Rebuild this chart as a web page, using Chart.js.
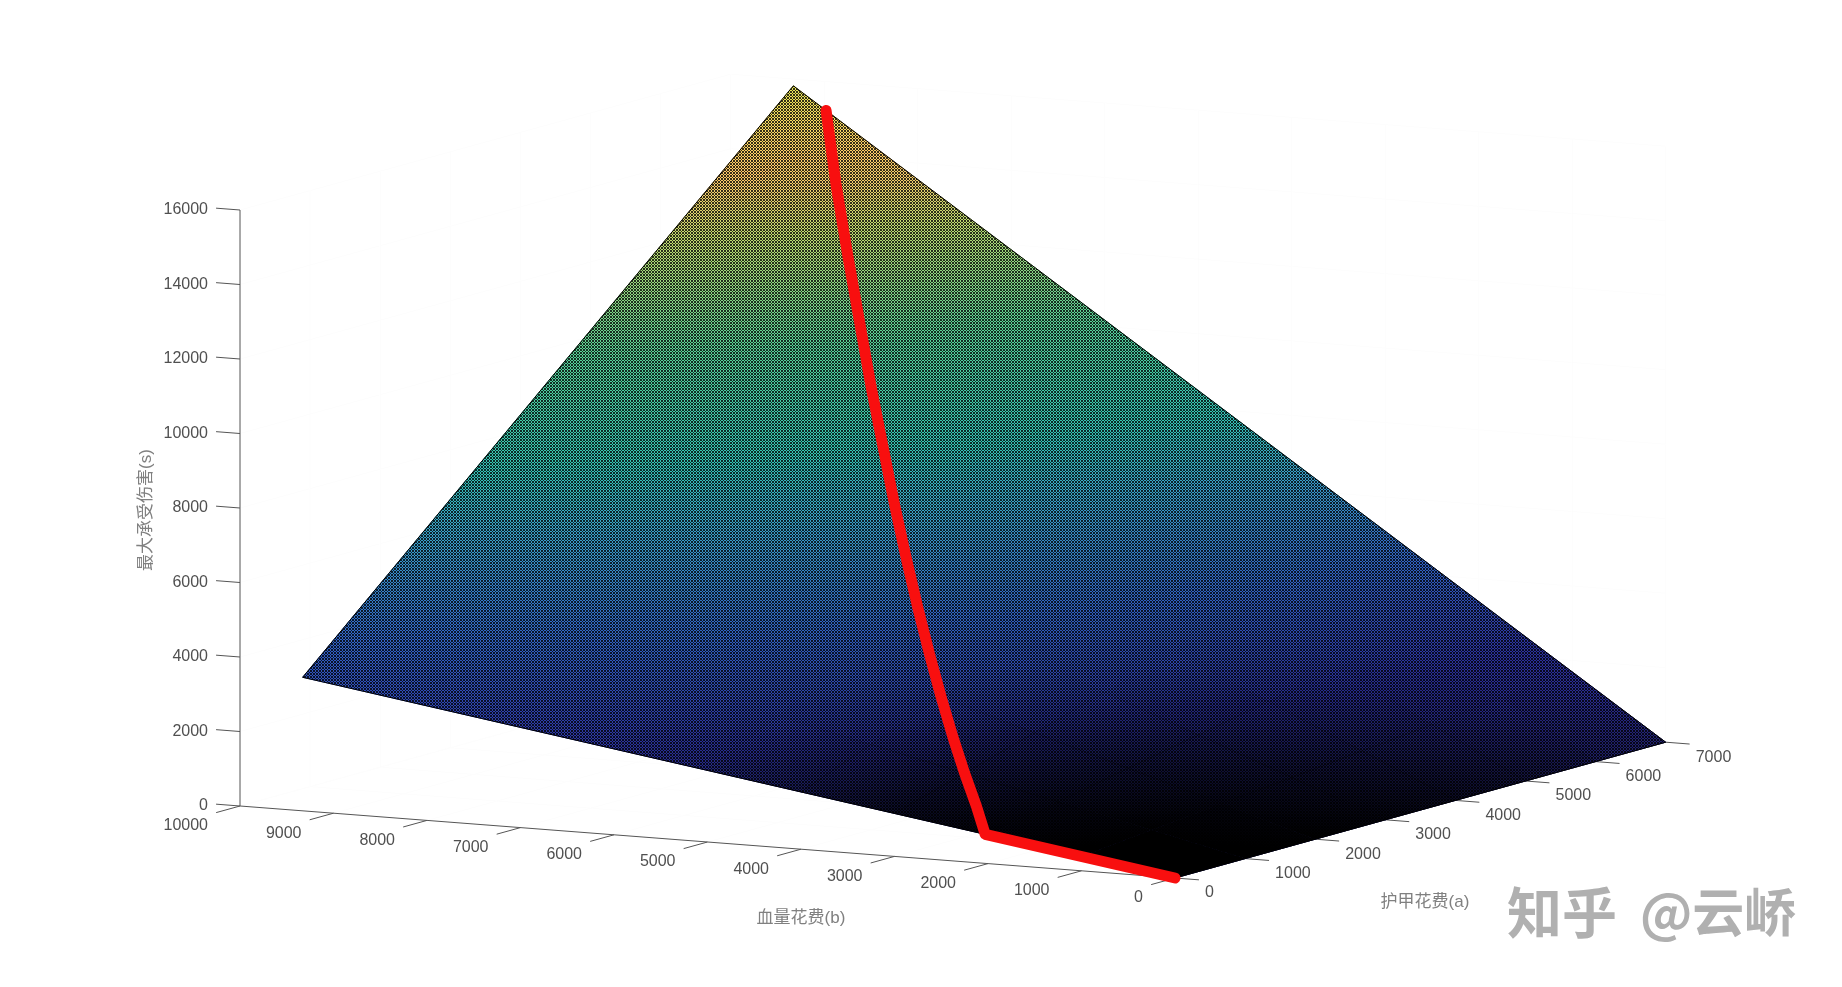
<!DOCTYPE html>
<html>
<head>
<meta charset="utf-8">
<title>chart</title>
<script src="https://cdn.jsdelivr.net/npm/chart.js@4"></script>
<style>
  html, body { margin: 0; background: #fff; }
  canvas { display: block; }
</style>
</head>
<body>
<canvas id="surfChart" width="1842" height="987"></canvas>
<script>
// tick labels
const aTicks = [0, 1000, 2000, 3000, 4000, 5000, 6000, 7000];
const bTicks = [0, 1000, 2000, 3000, 4000, 5000, 6000, 7000, 8000, 9000, 10000];
const zTicks = [0, 2000, 4000, 6000, 8000, 10000, 12000, 14000, 16000];

// surface: one row per armour cost, one value per hp cost
const gridA = [0, 1000, 2000, 3000, 4000, 5000, 6000, 7000];
const gridB = [0, 1000, 2000, 3000, 4000, 5000, 6000, 7000, 8000, 9000, 9330];
const zAtA0 = [0, 384, 769, 1153, 1537, 1922, 2306, 2690, 3074, 3459, 3585];
const zAtA1000 = [0, 572, 1143, 1715, 2286, 2858, 3430, 4001, 4573, 5144, 5333];
const zAtA2000 = [0, 759, 1518, 2277, 3036, 3795, 4553, 5312, 6071, 6830, 7080];
const zAtA3000 = [0, 946, 1892, 2839, 3785, 4731, 5677, 6623, 7570, 8516, 8828];
const zAtA4000 = [0, 1134, 2267, 3401, 4534, 5668, 6801, 7935, 9068, 10202, 10576];
const zAtA5000 = [0, 1321, 2642, 3962, 5283, 6604, 7925, 9246, 10566, 11887, 12323];
const zAtA6000 = [0, 1508, 3016, 4524, 6032, 7541, 9049, 10557, 12065, 13573, 14071];
const zAtA7000 = [0, 1695, 3391, 5086, 6782, 8477, 10172, 11868, 13563, 15259, 15818];
const zRows = [zAtA0, zAtA1000, zAtA2000, zAtA3000, zAtA4000, zAtA5000, zAtA6000, zAtA7000];

// red optimum path
const pathA = [0, 0, 500, 1000, 1500, 2000, 2500, 3000, 3500, 4000, 5000, 6000, 6500, 7000];
const pathB = [0, 2030, 2500, 3000, 3500, 4000, 4500, 5000, 5500, 6000, 7000, 8000, 8500, 8980];
const pathZ = [0, 780, 1195, 1715, 2329, 3036, 3837, 4731, 5719, 6801, 9246, 12065, 13615, 15225];

// oblique view of the MATLAB axes, the plot plane is 1842x987
function project(a, b, z) {
  return {
    x: 1175 + a * 0.0701 - b * 0.0935,
    y: 878 - a * 0.0194 - b * 0.0072 - z * 0.03725
  };
}

// colormap as seen through the mesh
const zMax = 15818;
const colorPos = [0, 0.143, 0.28, 0.416, 0.5, 0.65, 0.8, 0.88, 0.95, 1];
const colorRgb = [
  [42, 42, 140], [46, 52, 168], [50, 102, 200], [58, 162, 200], [52, 195, 180],
  [88, 208, 150], [194, 218, 110], [255, 200, 106], [247, 218, 97], [230, 230, 88]
];

function zColor(z) {
  const t = Math.min(1, Math.max(0, z / zMax));
  let i = 0;
  while (i < colorPos.length - 2 && t > colorPos[i + 1]) i++;
  const f = (t - colorPos[i]) / (colorPos[i + 1] - colorPos[i]);
  const c = colorRgb[i].map((v, k) => Math.round(v + (colorRgb[i + 1][k] - v) * f));
  return `rgb(${c[0]},${c[1]},${c[2]})`;
}

// the black mesh swallows small cells, so brightness follows the cell area
const coverStops = [[4500, 0], [5800, 0.24], [6750, 0.5], [7240, 0.54], [9400, 0.58], [12800, 0.58]];

function coverAt(i, j) {
  const i2 = i < gridA.length - 1 ? i + 1 : i - 1;
  const j2 = j < gridB.length - 1 ? j + 1 : j - 1;
  const p = project(gridA[i], gridB[j], zRows[i][j]);
  const pa = project(gridA[i2], gridB[j], zRows[i2][j]);
  const pb = project(gridA[i], gridB[j2], zRows[i][j2]);
  const sa = 1000 / (gridA[i2] - gridA[i]), sb = 1000 / (gridB[j2] - gridB[j]);
  const area = Math.abs((pa.x - p.x) * sa * (pb.y - p.y) * sb - (pa.y - p.y) * sa * (pb.x - p.x) * sb);
  if (area <= coverStops[0][0]) return 0;
  for (let k = 1; k < coverStops.length; k++) {
    if (area <= coverStops[k][0]) {
      const [x0, y0] = coverStops[k - 1], [x1, y1] = coverStops[k];
      return y0 + (y1 - y0) * (area - x0) / (x1 - x0);
    }
  }
  return coverStops[coverStops.length - 1][1];
}

function darkColor(m) {
  return `rgba(0,0,0,${(1 - Math.min(1, m / 0.58)).toFixed(3)})`;
}

const ctx = document.getElementById("surfChart").getContext("2d");

// linear gradient across one cell, fitted to its four corner values
function cellGradient(p00, p10, p01, p11, v00, v10, v01, v11, colorFn) {
  const ux = (p10.x + p11.x - p00.x - p01.x) / 2, uy = (p10.y + p11.y - p00.y - p01.y) / 2;
  const vx = (p01.x + p11.x - p00.x - p10.x) / 2, vy = (p01.y + p11.y - p00.y - p10.y) / 2;
  const du = (v10 + v11 - v00 - v01) / 2, dv = (v01 + v11 - v00 - v10) / 2;
  const det = ux * vy - uy * vx;
  const gx = (du * vy - dv * uy) / det, gy = (ux * dv - vx * du) / det;
  const g2 = gx * gx + gy * gy;
  const lo = Math.min(v00, v10, v01, v11), hi = Math.max(v00, v10, v01, v11);
  const mean = (v00 + v10 + v01 + v11) / 4;
  if (g2 < 1e-12 || hi === lo) return colorFn(mean);
  const cx = (p00.x + p10.x + p01.x + p11.x) / 4, cy = (p00.y + p10.y + p01.y + p11.y) / 4;
  const grad = ctx.createLinearGradient(
    cx + gx * (lo - mean) / g2, cy + gy * (lo - mean) / g2,
    cx + gx * (hi - mean) / g2, cy + gy * (hi - mean) / g2
  );
  for (let s = 0; s <= 6; s++) grad.addColorStop(s / 6, colorFn(lo + (hi - lo) * s / 6));
  return grad;
}

function meshPattern() {
  const tile = document.createElement("canvas");
  tile.width = 3;
  tile.height = 3;
  const t = tile.getContext("2d");
  for (let x = 0; x < 3; x++) {
    for (let y = 0; y < 3; y++) {
      if ((x + y) % 3 === 0 || (x - y + 3) % 3 === 0) {
        t.fillStyle = "rgba(0,0,0,0.78)";
        t.fillRect(x, y, 1, 1);
      }
    }
  }
  return ctx.createPattern(tile, "repeat");
}

const layers = [];   // bottom first

function addLine(points, color, width) {
  layers.push({
    data: points, showLine: true, fill: false, pointRadius: 0,
    borderColor: color, borderWidth: width
  });
}

function addShape(points, fillStyle, edge, edgeWidth) {
  layers.push({
    data: points, showLine: true, fill: "shape", pointRadius: 0,
    backgroundColor: fillStyle,
    borderColor: edge || "transparent", borderWidth: edge ? edgeWidth : 0
  });
}

// faint back walls and floor
const wall = "#fdfdfd";
zTicks.forEach(z => {
  addLine([project(0, 10000, z), project(7000, 10000, z), project(7000, 0, z)], wall, 1);
});
bTicks.forEach(b => {
  addLine([project(0, b, 0), project(7000, b, 0), project(7000, b, 16000)], wall, 1);
});
aTicks.forEach(a => {
  addLine([project(a, 0, 0), project(a, 10000, 0), project(a, 10000, 16000)], wall, 1);
});

// axes and tick marks
const axisColor = "#555";
addLine([project(0, 10000, 0), project(0, 10000, 16000)], axisColor, 1);
addLine([project(0, 0, 0), project(0, 10000, 0)], axisColor, 1);
addLine([project(0, 0, 0), project(7000, 0, 0)], axisColor, 1);
zTicks.forEach(z => addLine([project(0, 10000, z), project(0, 10256, z)], axisColor, 1));
bTicks.forEach(b => addLine([project(0, b, 0), project(-340, b, 0)], axisColor, 1));
aTicks.forEach(a => addLine([project(a, 0, 0), project(a, -256, 0)], axisColor, 1));

// surface: colour cells first, then the darkening cells, both stroked to close the seams
const last = gridB.length - 1;
const corners = [
  project(0, 0, zAtA0[0]), project(7000, 0, zAtA7000[0]),
  project(7000, gridB[last], zAtA7000[last]), project(0, gridB[last], zAtA0[last]),
  project(0, 0, zAtA0[0])
];

function cellPoints(i, j) {
  const pts = [
    project(gridA[i], gridB[j], zRows[i][j]),
    project(gridA[i + 1], gridB[j], zRows[i + 1][j]),
    project(gridA[i + 1], gridB[j + 1], zRows[i + 1][j + 1]),
    project(gridA[i], gridB[j + 1], zRows[i][j + 1])
  ];
  return [...pts, pts[0]];
}

for (let i = 0; i < gridA.length - 1; i++) {
  for (let j = 0; j < last; j++) {
    const pts = cellPoints(i, j);
    const g = cellGradient(pts[0], pts[1], pts[3], pts[2],
      zRows[i][j], zRows[i + 1][j], zRows[i][j + 1], zRows[i + 1][j + 1], zColor);
    addShape(pts, g, g, 1);
  }
}
for (let i = 0; i < gridA.length - 1; i++) {
  for (let j = 0; j < last; j++) {
    const pts = cellPoints(i, j);
    const g = cellGradient(pts[0], pts[1], pts[3], pts[2],
      coverAt(i, j), coverAt(i + 1, j), coverAt(i, j + 1), coverAt(i + 1, j + 1), darkColor);
    addShape(pts, g, g, 0.4);
  }
}
addShape(corners, meshPattern(), "#000", 1);

// optimum path
layers.push({
  data: pathA.map((a, i) => project(a, pathB[i], pathZ[i])),
  showLine: true, fill: false, pointRadius: 0,
  borderColor: "#f80f0f", borderWidth: 11,
  borderCapStyle: "round", borderJoinStyle: "round"
});

const textPlugin = {
  id: "axisText",
  afterDraw(chart) {
    const c = chart.ctx, sx = chart.scales.x, sy = chart.scales.y;
    const at = (a, b, z) => {
      const p = project(a, b, z);
      return [sx.getPixelForValue(p.x), sy.getPixelForValue(p.y)];
    };
    c.save();
    c.fillStyle = "#505050";
    c.font = '16px "Liberation Sans", Arial, sans-serif';
    c.textBaseline = "middle";

    c.textAlign = "right";
    zTicks.forEach(z => {
      const [x, y] = at(0, 10000, z);
      c.fillText(z, x - 32, y);
    });
    bTicks.forEach(b => {
      const [x, y] = at(0, b, 0);
      c.fillText(b, x - 32, y + 20);
    });
    c.textAlign = "left";
    aTicks.forEach(a => {
      const [x, y] = at(a, 0, 0);
      c.fillText(a, x + 30, y + 15);
    });

    c.textAlign = "center";
    c.fillStyle = "#808080";
    c.font = '17px "Liberation Sans", "Noto Sans CJK SC", sans-serif';
    c.fillText("血量花费(b)", 801, 918);
    c.fillText("护甲花费(a)", 1425, 902);
    c.save();
    c.translate(146, 510);
    c.rotate(-Math.PI / 2);
    c.fillText("最大承受伤害(s)", 0, 0);
    c.restore();

    c.textAlign = "left";
    c.fillStyle = "#b0b0b0";
    c.font = 'bold 55px "Noto Sans CJK SC", sans-serif';
    c.fillText("知乎", 1507, 912);
    c.font = 'bold 52px "Noto Sans CJK SC", sans-serif';
    c.fillText("@云峤", 1640, 912);
    c.restore();
  }
};

new Chart(ctx, {
  type: "scatter",
  data: { datasets: layers.reverse() },
  options: {
    responsive: false,
    animation: false,
    layout: { padding: 0 },
    plugins: { legend: { display: false }, tooltip: { enabled: false } },
    scales: {
      x: { type: "linear", min: 0, max: 1842, display: false },
      y: { type: "linear", min: 0, max: 987, reverse: true, display: false }
    }
  },
  plugins: [textPlugin]
});
</script>
</body>
</html>
